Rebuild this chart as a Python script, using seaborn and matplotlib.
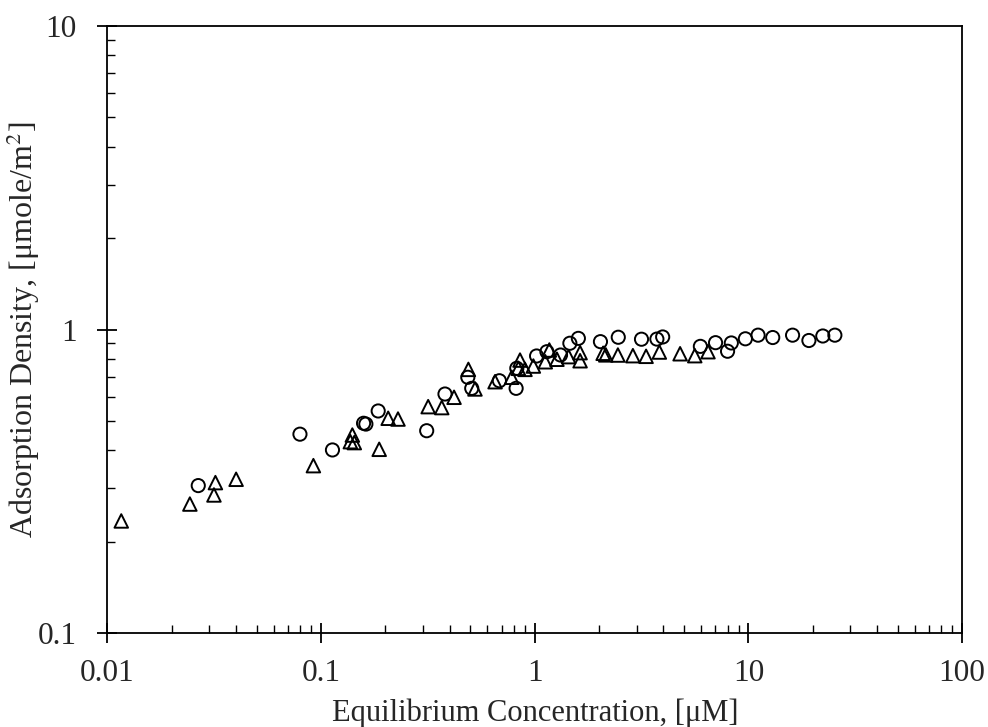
import numpy as np
import pandas as pd
import matplotlib
matplotlib.use("Agg")
import matplotlib.pyplot as plt
import seaborn as sns
from matplotlib.ticker import LogLocator, NullFormatter

# data
circle_x = [0.0266, 0.0796, 0.113, 0.158, 0.162, 0.185, 0.312, 0.38, 0.486, 0.507,
            0.683, 0.818, 0.824, 1.02, 1.14, 1.32, 1.46, 1.60, 2.03, 2.46,
            3.16, 3.73, 3.97, 5.96, 7.02, 7.99, 8.32, 9.68, 11.1, 13.0,
            16.1, 19.2, 22.3, 25.4]
circle_y = [0.306, 0.452, 0.401, 0.491, 0.488, 0.539, 0.464, 0.613, 0.696, 0.640,
            0.678, 0.640, 0.745, 0.818, 0.845, 0.824, 0.901, 0.935, 0.912, 0.943,
            0.929, 0.930, 0.945, 0.880, 0.905, 0.848, 0.903, 0.932, 0.958, 0.941,
            0.958, 0.920, 0.952, 0.958]

triangle_x = [0.0116, 0.0243, 0.032, 0.0315, 0.040, 0.092, 0.140, 0.137, 0.143, 0.187,
              0.206, 0.229, 0.317, 0.367, 0.419, 0.489, 0.525, 0.652, 0.78, 0.853,
              0.838, 0.90, 0.985, 1.12, 1.17, 1.27, 1.44, 1.63, 1.63, 2.09,
              2.15, 2.45, 2.88, 3.32, 3.83, 4.79, 5.61, 6.47]
triangle_y = [0.234, 0.266, 0.313, 0.285, 0.321, 0.356, 0.449, 0.427, 0.424, 0.403,
              0.510, 0.507, 0.557, 0.553, 0.598, 0.739, 0.637, 0.673, 0.696, 0.793,
              0.745, 0.739, 0.758, 0.783, 0.856, 0.798, 0.814, 0.839, 0.789, 0.835,
              0.825, 0.824, 0.820, 0.816, 0.843, 0.832, 0.820, 0.845]

x_ticks = [0.01, 0.1, 1, 10, 100]
x_tick_labels = ["0.01", "0.1", "1", "10", "100"]
y_ticks = [0.1, 1, 10]
y_tick_labels = ["0.1", "1", "10"]

circles = pd.DataFrame({"conc": circle_x, "ads": circle_y})
triangles = pd.DataFrame({"conc": triangle_x, "ads": triangle_y})

sns.set_style("white")
plt.rcParams["font.family"] = ["Liberation Serif", "DejaVu Serif"]
plt.rcParams["mathtext.fontset"] = "stix"

fig = plt.figure(figsize=(9.88, 7.27), dpi=100)
ax = fig.add_axes([0.1088, 0.1293, 0.8649, 0.8349])

sns.scatterplot(data=triangles, x="conc", y="ads", marker="^", s=95,
                facecolor="none", edgecolor="black", linewidth=1.4, ax=ax, zorder=3)
sns.scatterplot(data=circles, x="conc", y="ads", marker="o", s=90,
                facecolor="none", edgecolor="black", linewidth=1.4, ax=ax, zorder=3)

ax.set_xscale("log")
ax.set_yscale("log")
ax.set_xlim(0.01, 100)
ax.set_ylim(0.1, 10)

ax.set_xticks(x_ticks, x_tick_labels)
ax.set_yticks(y_ticks, y_tick_labels)
ax.xaxis.set_minor_locator(LogLocator(base=10, subs=np.arange(2, 10)))
ax.yaxis.set_minor_locator(LogLocator(base=10, subs=np.arange(2, 10)))
ax.xaxis.set_minor_formatter(NullFormatter())
ax.yaxis.set_minor_formatter(NullFormatter())

ax.tick_params(bottom=True, left=True, top=False, right=False, which="both")
ax.tick_params(axis="both", which="major", direction="inout", length=14, width=1.3,
               labelsize=22.5, color="black")
ax.tick_params(axis="both", which="minor", direction="in", length=5.5, width=1.0, color="black")
ax.tick_params(axis="x", which="major", pad=12)
ax.tick_params(axis="y", which="major", pad=15)

for side in ["left", "right", "top", "bottom"]:
    ax.spines[side].set_color("black")
    ax.spines[side].set_linewidth(1.3)

ax.set_xlabel("Equilibrium Concentration, [μM]", fontsize=22, labelpad=7)
ax.set_ylabel(r"Adsorption Density, [μmole/m$^{2}$]", fontsize=23)
ax.yaxis.set_label_coords(-0.077, 0.5)

fig.savefig("out.png", dpi=100)
